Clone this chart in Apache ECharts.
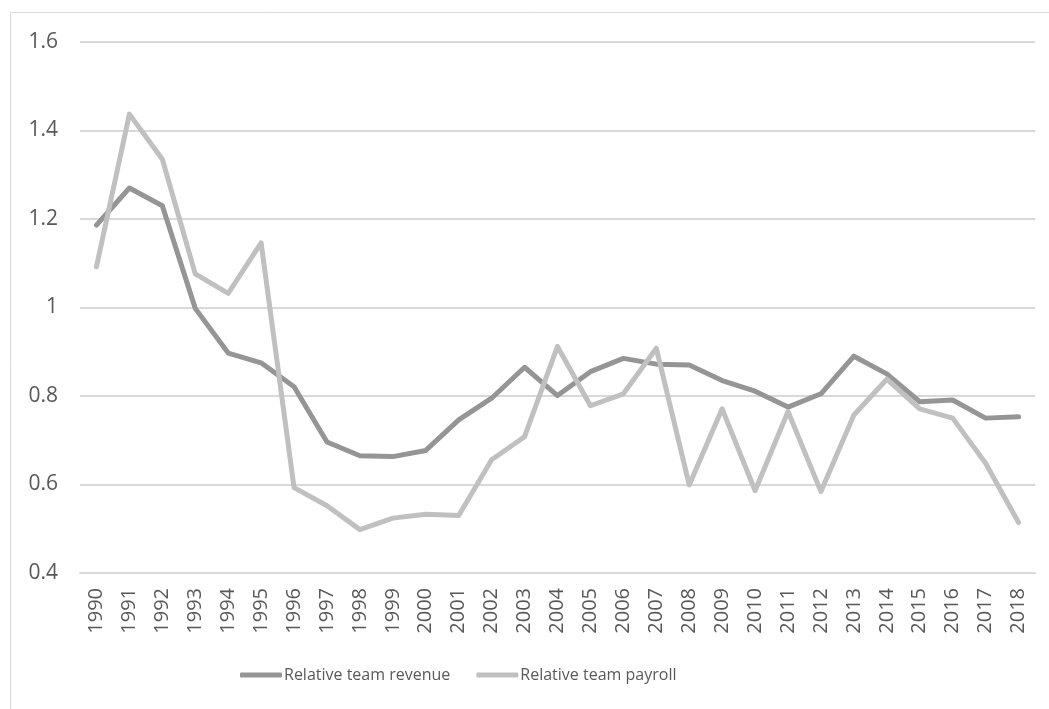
<!DOCTYPE html>
<html>
<head>
<meta charset="utf-8">
<script src="https://cdn.jsdelivr.net/npm/echarts@6/dist/echarts.min.js"></script>
<style>
  html, body { margin: 0; padding: 0; background: #ffffff; }
  #chart { width: 1049px; height: 709px; }
</style>
</head>
<body>
<div id="chart"></div>
<script>
// Years on the category axis
const years = ['1990','1991','1992','1993','1994','1995','1996','1997','1998','1999',
  '2000','2001','2002','2003','2004','2005','2006','2007','2008','2009',
  '2010','2011','2012','2013','2014','2015','2016','2017','2018'];

// Relative team revenue by year
const revenue = [1.186, 1.270, 1.230, 0.998, 0.897, 0.875, 0.821, 0.696, 0.665, 0.663,
  0.677, 0.746, 0.795, 0.865, 0.801, 0.855, 0.885, 0.872, 0.870, 0.835,
  0.811, 0.775, 0.805, 0.890, 0.850, 0.787, 0.791, 0.750, 0.753];

// Relative team payroll by year
const payroll = [1.092, 1.437, 1.335, 1.076, 1.032, 1.146, 0.593, 0.552, 0.498, 0.524,
  0.533, 0.530, 0.656, 0.708, 0.912, 0.778, 0.805, 0.908, 0.599, 0.771,
  0.586, 0.765, 0.584, 0.757, 0.838, 0.771, 0.750, 0.648, 0.514];

const seriesNames = ['Relative team revenue', 'Relative team payroll'];

const labelFont = '"Open Sans", "Noto Sans", sans-serif';

const chart = echarts.init(document.getElementById('chart'));
chart.setOption({
  animation: false,
  backgroundColor: '#ffffff',
  graphic: [{
    type: 'rect',
    shape: { x: 10.5, y: 12.5, width: 1060, height: 720 },
    style: { fill: 'none', stroke: '#d9d9d9', lineWidth: 1 },
    silent: true
  }],
  grid: { left: 80, right: 14, top: 42, bottom: 136 },
  legend: {
    data: seriesNames,
    bottom: 21,
    left: 235,
    itemWidth: 42,
    itemHeight: 5,
    itemGap: 26,
    icon: 'roundRect',
    textStyle: { fontFamily: labelFont, fontSize: 16, color: '#595959', padding: [0, 0, 0, -3] }
  },
  xAxis: {
    type: 'category',
    data: years,
    boundaryGap: true,
    axisLine: { show: true, lineStyle: { color: '#d9d9d9', width: 2 } },
    axisTick: { show: false },
    axisLabel: {
      rotate: 90,
      margin: 15,
      fontFamily: labelFont,
      fontSize: 20,
      color: '#595959',
      interval: 0
    }
  },
  yAxis: {
    type: 'value',
    min: 0.4,
    max: 1.6,
    interval: 0.2,
    axisLine: { show: false },
    axisTick: { show: false },
    splitLine: { lineStyle: { color: '#d9d9d9', width: 2 } },
    axisLabel: {
      margin: 22,
      fontFamily: labelFont,
      fontSize: 21,
      color: '#595959'
    }
  },
  series: [
    {
      name: seriesNames[0],
      type: 'line',
      data: revenue,
      symbol: 'none',
      lineStyle: { color: '#959595', width: 5, cap: 'round', join: 'round' },
      itemStyle: { color: '#959595' }
    },
    {
      name: seriesNames[1],
      type: 'line',
      data: payroll,
      symbol: 'none',
      lineStyle: { color: '#c0c0c0', width: 5, cap: 'round', join: 'round' },
      itemStyle: { color: '#c0c0c0' }
    }
  ]
});
</script>
</body>
</html>
